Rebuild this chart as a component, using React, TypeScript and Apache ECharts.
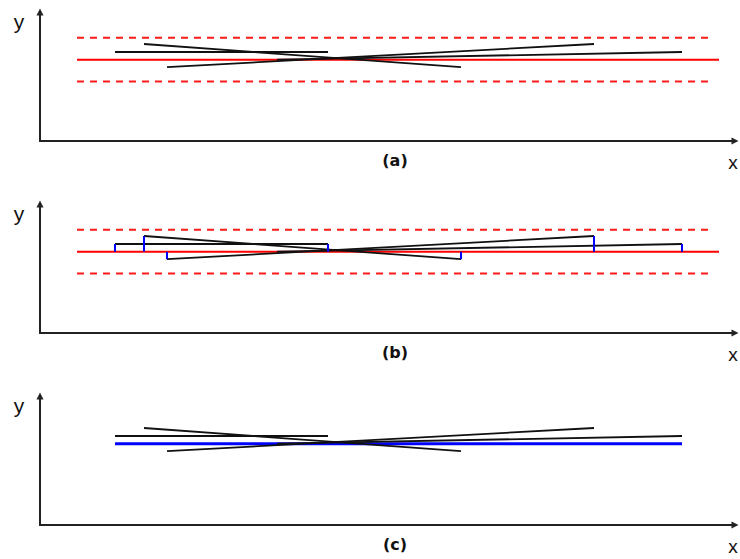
import React, { useEffect, useRef } from "react";
import * as echarts from "echarts";

// ---- data (units measured from each panel's axis origin) ----
const panelLabels = ["(a)", "(b)", "(c)"];
const axisXLabel = "x";
const axisYLabel = "y";

const fitLevel = 81.3; // red fitted line
const fitRange = [37, 679];
const bandUpper = 103.2; // dashed band
const bandLower = 59.5;
const bandRange = [37, 674];

const segStartX = [75, 104, 127, 237];
const segStartY = [89, 97, 73.8, 81.3];
const segEndX = [288, 421, 554, 642];
const segEndY = [89, 73.8, 97, 89];

const commonRange = [75, 642]; // blue line in (c)
const commonLevel = 81.3;

// ---- layout ----
const AXIS_Y = [141, 333, 525];
const GRID_LEFT = 40;
const GRID_W = 695;
const GRID_H = 129;

export default function App() {
  const ref = useRef<HTMLDivElement>(null);

  useEffect(() => {
    if (!ref.current) return;
    const chart = echarts.init(ref.current, undefined, { renderer: "svg" });

    const grids = AXIS_Y.map((ay) => ({
      left: GRID_LEFT,
      top: ay - GRID_H,
      width: GRID_W,
      height: GRID_H,
      containLabel: false,
    }));

    const axisLine = {
      show: true,
      symbol: ["none", "triangle"],
      symbolSize: [7, 7],
      lineStyle: { color: "#222", width: 2 },
    };

    const xAxes = AXIS_Y.map((_, i) => ({
      type: "value",
      gridIndex: i,
      min: 0,
      max: GRID_W,
      axisLine,
      axisTick: { show: false },
      axisLabel: { show: false },
      splitLine: { show: false },
    }));
    const yAxes = AXIS_Y.map((_, i) => ({
      type: "value",
      gridIndex: i,
      min: 0,
      max: GRID_H,
      axisLine,
      axisTick: { show: false },
      axisLabel: { show: false },
      splitLine: { show: false },
    }));

    const seg = (i: number, data: number[][], color: string, width: number, type: any = "solid", z = 2) => ({
      type: "line",
      xAxisIndex: i,
      yAxisIndex: i,
      data,
      showSymbol: false,
      symbol: "none",
      silent: true,
      z,
      lineStyle: { color, width, type, cap: "butt" },
    });

    const series: any[] = [];
    const addBand = (i: number) => {
      series.push(seg(i, [[bandRange[0], bandUpper], [bandRange[1], bandUpper]], "#ff1a1a", 2, [7, 6]));
      series.push(seg(i, [[bandRange[0], bandLower], [bandRange[1], bandLower]], "#ff1a1a", 2, [7, 6]));
      series.push(seg(i, [[fitRange[0], fitLevel], [fitRange[1], fitLevel]], "#ff0000", 2));
    };
    const addBlack = (i: number) => {
      segStartX.forEach((x0, k) => {
        series.push(seg(i, [[x0, segStartY[k]], [segEndX[k], segEndY[k]]], "#111", 1.8, "solid", 3));
      });
    };

    // (a)
    addBand(0);
    addBlack(0);
    // (b)
    addBand(1);
    addBlack(1);
    segStartX.forEach((x0, k) => {
      const pts = [
        [x0, segStartY[k]],
        [segEndX[k], segEndY[k]],
      ];
      pts.forEach(([x, y]) => {
        if (Math.abs(y - fitLevel) > 0.5) {
          series.push(seg(1, [[x, y], [x, fitLevel]], "#0000ff", 2, "solid", 4));
        }
      });
    });
    // (c)
    series.push(seg(2, [[commonRange[0], commonLevel], [commonRange[1], commonLevel]], "#0000ff", 3));
    addBlack(2);

    const graphic: any[] = [];
    AXIS_Y.forEach((ay, i) => {
      graphic.push({
        type: "text",
        x: 19,
        y: ay - 120,
        style: {
          text: axisYLabel,
          font: "21px 'Liberation Sans'",
          fill: "#111",
          align: "center",
          verticalAlign: "middle",
          textAlign: "center",
          textVerticalAlign: "middle",
        },
      });
      graphic.push({
        type: "text",
        x: 733,
        y: ay + 21,
        style: {
          text: axisXLabel,
          font: "19px 'Liberation Sans'",
          fill: "#111",
          align: "center",
          verticalAlign: "middle",
          textAlign: "center",
          textVerticalAlign: "middle",
        },
      });
      graphic.push({
        type: "text",
        x: 395,
        y: ay + 19.5,
        style: {
          text: panelLabels[i],
          font: "bold 16px 'DejaVu Sans'",
          fill: "#111",
          align: "center",
          verticalAlign: "middle",
          textAlign: "center",
          textVerticalAlign: "middle",
        },
      });
    });

    chart.setOption({
      animation: false,
      backgroundColor: "#ffffff",
      grid: grids,
      xAxis: xAxes,
      yAxis: yAxes,
      series,
      graphic,
    } as any);

    return () => chart.dispose();
  }, []);

  return (
    <div
      ref={ref}
      style={{ position: "fixed", left: 0, top: 0, width: 740, height: 559, background: "#fff" }}
    />
  );
}
